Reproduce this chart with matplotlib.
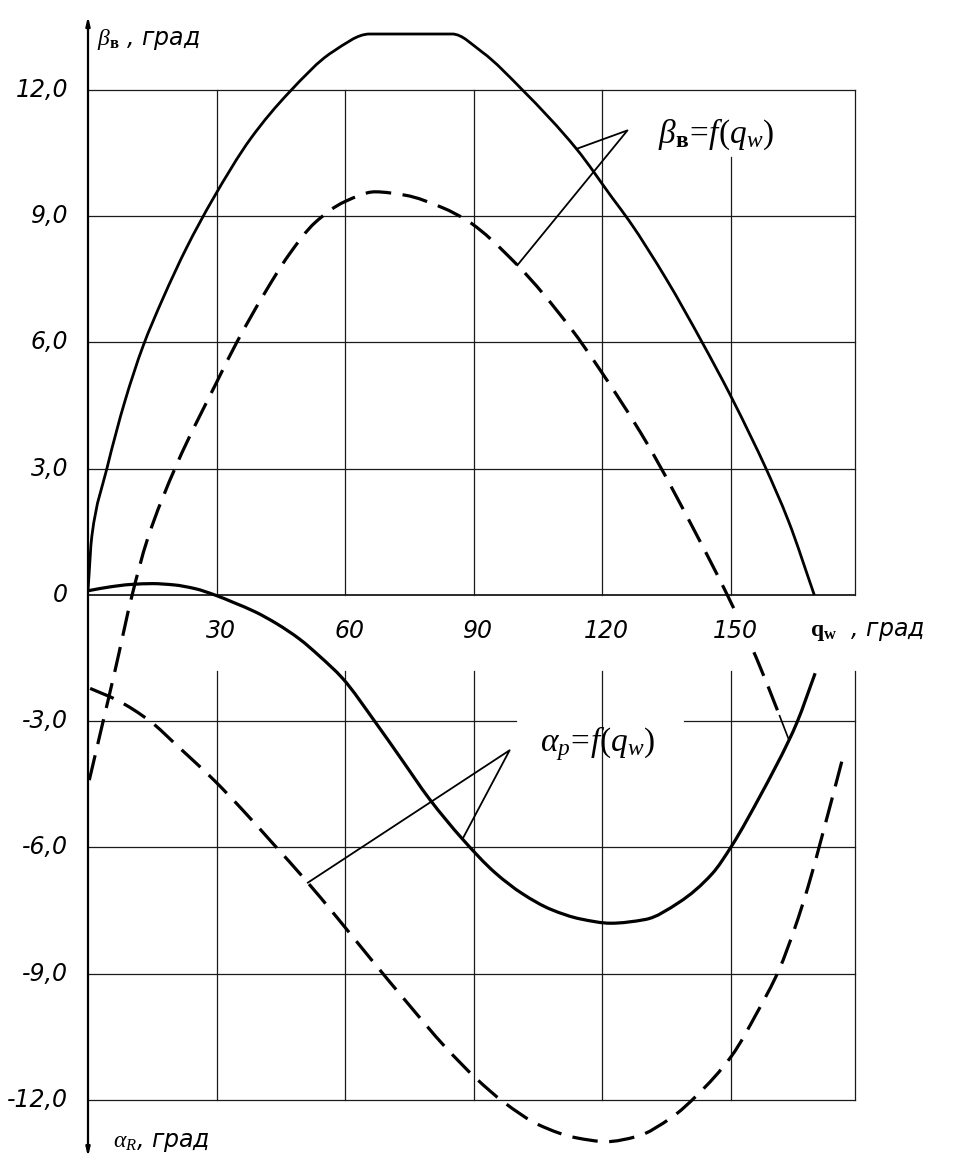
import matplotlib
matplotlib.use('Agg')
import matplotlib.pyplot as plt
import numpy as np
from matplotlib import font_manager
from matplotlib.path import Path
from matplotlib.patches import PathPatch


def has_font(name):
    try:
        font_manager.findfont(font_manager.FontProperties(family=name),
                              fallback_to_default=False)
        return True
    except Exception:
        return False


NARROW = has_font('Liberation Sans Narrow')
TICK_FONT = 'Liberation Sans Narrow' if NARROW else 'DejaVu Sans'
TICK_SIZE = 22 if NARROW else 17

plt.rcParams['mathtext.fontset'] = 'custom'
plt.rcParams['mathtext.rm'] = 'Liberation Serif'
plt.rcParams['mathtext.it'] = 'Liberation Serif:italic'
plt.rcParams['mathtext.bf'] = 'Liberation Serif:bold'

# ---------------- data (degrees) ----------------
# beta_v = f(q_w), solid curve
beta_solid_q = [0, 0.9, 4.4, 8.6, 12.8, 17.5, 23, 29.1, 38, 47, 57, 65.7, 75, 85,
                92, 101.4, 114, 122.4, 126.3, 135, 143.4, 149.9, 155, 157.8, 163.5, 169.5]
beta_solid_v = [0.1, 1.4, 3.0, 4.6, 5.9, 7.05, 8.25, 9.4, 10.85, 11.95, 12.9, 13.33, 13.33, 13.33,
                12.9, 12.0, 10.6, 9.43, 8.89, 7.5, 5.99, 4.75, 3.7, 3.1, 1.75, 0.0]

# beta_v = f(q_w), dashed curve
beta_dash_q = [0.3, 3.3, 6.3, 10.3, 13.8, 20.7, 30, 34.7, 40.8, 47, 53, 60, 67,
               74, 82.8, 88.6, 100, 112.8, 119.3, 130.3, 142.7, 149.2, 156, 161.4]
beta_dash_v = [-4.4, -3.1, -1.8, 0.0, 1.3, 3.1, 5.05, 6.0, 7.1, 8.1, 8.85, 9.35, 9.58,
               9.5, 9.2, 8.89, 7.86, 6.32, 5.38, 3.63, 1.3, 0.0, -1.5, -2.87]

# alpha_p = f(q_w), solid curve
alpha_solid_q = [0, 5, 10, 15, 20, 25, 29.6, 34, 39, 44, 49.4, 54, 59.4, 66.9, 73, 79.7,
                 87.4, 95, 101.4, 108, 115, 122, 130.1, 138, 145.7, 150.3, 157,
                 163.6, 165.5, 169.7]
alpha_solid_v = [0.1, 0.19, 0.25, 0.27, 0.24, 0.15, 0.0, -0.18, -0.4, -0.68, -1.05, -1.45, -1.98,
                 -3.0, -3.88, -4.85, -5.8, -6.6, -7.1, -7.47, -7.7, -7.8, -7.71, -7.3, -6.62,
                 -5.95, -4.75, -3.45, -3.02, -1.86]

# alpha_p = f(q_w), dashed curve
alpha_dash_q = [0.5, 6.8, 14.5, 21, 29.4, 36, 43.1, 51, 58, 66, 75, 83, 90.7, 97,
                105.4, 114, 121, 128, 136.4, 142, 150.3, 156, 161.3, 165, 168, 171, 176.5]
alpha_dash_v = [-2.22, -2.5, -3.0, -3.6, -4.4, -5.1, -5.9, -6.8, -7.65, -8.65, -9.75, -10.7, -11.5,
                -12.05, -12.6, -12.9, -12.99, -12.87, -12.4, -11.9, -10.94, -9.95, -8.9, -7.9,
                -6.95, -5.85, -3.73]

xtick_values = [30, 60, 90, 120, 150]
xtick_labels = ['30', '60', '90', '120', '150']
ytick_values = [12, 9, 6, 3, 0, -3, -6, -9, -12]
ytick_labels = ['12,0', '9,0', '6,0', '3,0', '0', '-3,0', '-6,0', '-9,0', '-12,0']

X_MAX = 179

# ---------------- figure ----------------
fig = plt.figure(figsize=(9.78, 11.75), dpi=100)
ax = fig.add_axes([88 / 978, 0.00655, 767 / 978, 0.9885])
ax.set_xlim(0, X_MAX)
ax.set_ylim(-13.6, 14.0)
ax.axis('off')

GC = '#1a1a1a'
GLW = 0.9
LABEL_GAP = -1.8   # verticals start again below the tick-label band


def gline(xs, ys, lw=GLW):
    ax.plot(xs, ys, color=GC, lw=lw, zorder=1, clip_on=False)


# horizontal grid lines
for v in ytick_values:
    if v == 0:
        gline([0, X_MAX], [0, 0], lw=1.3)
    elif v == -3:
        gline([0, 100], [v, v])
        gline([139, X_MAX], [v, v])
    else:
        gline([0, X_MAX], [v, v])

# vertical grid lines + right border
for q in xtick_values + [X_MAX]:
    top = 10.4 if q == 150 else 12
    gline([q, q], [top, 0])
    gline([q, q], [LABEL_GAP, -12])

# y axis with arrows at both ends
for end in (13.75, -13.35):
    ax.annotate('', xy=(0, end), xytext=(0, 0), zorder=2,
                arrowprops=dict(arrowstyle='-|>,head_length=0.5,head_width=0.12',
                                lw=1.6, color='black', shrinkA=0, shrinkB=0))


# smooth monotone (Fritsch-Carlson) cubic through the read points, drawn as a Bezier path
def smooth_curve(qs, vs, **kw):
    x = np.asarray(qs, float)
    y = np.asarray(vs, float)
    n = len(x)
    h = np.diff(x)
    d = np.diff(y) / h
    m = np.zeros(n)
    m[0], m[-1] = d[0], d[-1]
    for k in range(1, n - 1):
        if d[k - 1] * d[k] <= 0:
            m[k] = 0.0
        else:
            w1 = 2 * h[k] + h[k - 1]
            w2 = h[k] + 2 * h[k - 1]
            m[k] = (w1 + w2) / (w1 / d[k - 1] + w2 / d[k])
    verts = [(x[0], y[0])]
    codes = [Path.MOVETO]
    for k in range(n - 1):
        verts += [(x[k] + h[k] / 3, y[k] + m[k] * h[k] / 3),
                  (x[k + 1] - h[k] / 3, y[k + 1] - m[k + 1] * h[k] / 3),
                  (x[k + 1], y[k + 1])]
        codes += [Path.CURVE4] * 3
    patch = PathPatch(Path(verts, codes), fill=False, zorder=3,
                      capstyle='butt', joinstyle='round', **kw)
    ax.add_patch(patch)


LW = 2.3
DASH = (0, (8, 3.6))
smooth_curve(beta_solid_q, beta_solid_v, edgecolor='black', lw=2.0)
smooth_curve(beta_dash_q, beta_dash_v, edgecolor='black', lw=LW, linestyle=DASH)
smooth_curve(alpha_solid_q, alpha_solid_v, edgecolor='black', lw=LW)
smooth_curve(alpha_dash_q, alpha_dash_v, edgecolor='black', lw=LW, linestyle=DASH)


# leader lines for the curve labels
def on_curve(qs, vs, q):
    return q, float(np.interp(q, qs, vs))


b_vertex = (125.9, 11.04)
b_s = on_curve(beta_solid_q, beta_solid_v, 114)
b_d = on_curve(beta_dash_q, beta_dash_v, 100.2)
ax.plot([b_s[0], b_vertex[0], b_d[0]], [b_s[1], b_vertex[1], b_d[1]],
        color='black', lw=1.3, zorder=4)

a_vertex = (98.4, -3.69)
a_s = on_curve(alpha_solid_q, alpha_solid_v, 87.4)
a_d = on_curve(alpha_dash_q, alpha_dash_v, 51.3)
ax.plot([a_s[0], a_vertex[0], a_d[0]], [a_s[1], a_vertex[1], a_d[1]],
        color='black', lw=1.3, zorder=4)

# small V joining the lower end of the dashed beta curve
v_pt = on_curve(alpha_solid_q, alpha_solid_v, 163.6)
ax.plot([beta_dash_q[-1], v_pt[0], 165.8], [beta_dash_v[-1], v_pt[1], -2.95],
        color='black', lw=1.2, zorder=4)

# tick labels
for v, lab in zip(ytick_values, ytick_labels):
    ax.text(-4.6, v, lab, ha='right', va='center', fontsize=TICK_SIZE,
            family=TICK_FONT, style='italic', clip_on=False)
for q, lab in zip(xtick_values, xtick_labels):
    ax.text(q + 1.0, -0.85, lab, ha='center', va='center', fontsize=TICK_SIZE,
            family=TICK_FONT, style='italic', clip_on=False, zorder=5,
            bbox=dict(facecolor='white', edgecolor='none', pad=4))

# axis titles
ax.text(2.1, 13.2, r'$\beta_{\mathbf{в}}$ , град', ha='left', va='center',
        fontsize=TICK_SIZE, family=TICK_FONT, style='italic', clip_on=False)
ax.text(5.8, -13.0, r'$\alpha_{R}$, град', ha='left', va='center',
        fontsize=TICK_SIZE, family=TICK_FONT, style='italic', clip_on=False)
ax.text(168.5, -0.85, r'$\mathbf{q_w}$  , град', ha='left', va='center',
        fontsize=TICK_SIZE, family=TICK_FONT, style='italic', clip_on=False)

# curve labels
ax.text(133.0, 10.95, r'$\beta_{\mathbf{в}}\!=\!f(q_w)$', ha='left', va='center',
        fontsize=24, clip_on=False)
ax.text(105.5, -3.54, r'$\alpha_p\!=\!f(q_w)$', ha='left', va='center',
        fontsize=24, clip_on=False)

fig.savefig('out.png', dpi=100, facecolor='white')
